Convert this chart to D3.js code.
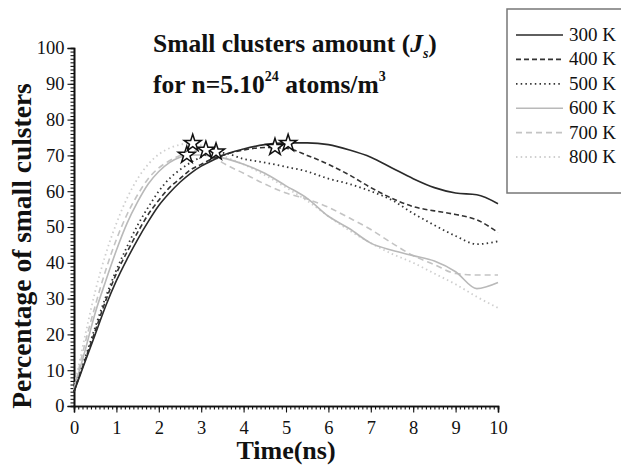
<!DOCTYPE html>
<html>
<head>
<meta charset="utf-8">
<script src="https://cdn.jsdelivr.net/npm/d3@7"></script>
<style>
  body { margin: 0; background: #fff; }
  svg { display: block; }
  text { font-family: "Liberation Serif", "Times New Roman", serif; fill: #111; }
</style>
</head>
<body>
<div id="chart"></div>
<script>
// time grid (ns) shared by all series
const times = [0, 0.25, 0.5, 0.75, 1, 1.25, 1.5, 1.75, 2, 2.25, 2.5, 2.75, 3, 3.25, 3.5,
    4, 4.5, 5, 5.5, 6, 6.5, 7, 7.5, 8, 8.5, 9, 9.5, 10];

const labels = ["300 K", "400 K", "500 K", "600 K", "700 K", "800 K"];

const v300 = [4, 12, 20, 28, 35, 41, 46.5, 51.5, 56, 59.5, 62.5, 65, 67, 68.5, 70,
    71.8, 73, 73.5, 73.5, 73, 71.5, 69.5, 66.5, 63.5, 61, 59.5, 59, 56.5];
const v400 = [4, 12.5, 21, 29.5, 37, 43, 48.5, 53.5, 57.5, 61, 63.5, 66, 67.5, 69, 70,
    71.5, 72.2, 72, 70, 67.5, 64.5, 61, 58, 55.7, 54.5, 53.5, 52, 48.5];
const v500 = [4, 13, 22, 30.5, 38, 44.5, 50.5, 55.5, 60, 63.5, 66, 68, 69.5, 70.7, 70.7,
    69, 68, 66.8, 65.5, 63.5, 62, 60, 57.5, 53.8, 50.5, 47.5, 45.2, 46];
const v600 = [4.5, 15, 26, 35, 43.5, 51, 57, 62, 65.5, 68, 69.5, 70.1, 70.1, 69.8, 69.3,
    67.5, 65, 61.5, 58, 53, 49.5, 45.5, 43.5, 42, 40.5, 37.5, 32.8, 34.5];
const v700 = [4.5, 17, 28, 38, 46.5, 53.5, 59, 63.5, 66.5, 68.5, 70, 71, 71.5, 70, 68,
    65, 62, 59.5, 57.8, 55.5, 52.5, 49.3, 45.5, 42, 39.5, 37, 36.6, 36.6];
const v800 = [5, 19, 32, 42.5, 51, 58, 63.5, 67.5, 70.3, 72, 73, 73.4, 72.8, 71.5, 70,
    67.5, 64.5, 61, 57.3, 53, 49, 45.5, 42.5, 40, 37, 34, 30.5, 27.4];

// star markers at the maxima
const peakTimes = [5.05, 4.74, 3.35, 2.66, 3.11, 2.8];
const peakValues = [73.4, 72.3, 71, 70.1, 71.5, 73.4];

const seriesValues = [v300, v400, v500, v600, v700, v800];
const styles = [
    { color: "#2a2a2a", dash: null, w: 1.6 },
    { color: "#333", dash: "5,3", w: 1.6 },
    { color: "#333", dash: "1.5,3.2", w: 1.8 },
    { color: "#b9b9b9", dash: null, w: 1.6 },
    { color: "#c4c4c4", dash: "6,4", w: 1.6 },
    { color: "#cfcfcf", dash: "1.5,3.2", w: 1.8 }
];

const width = 621, height = 466;
const margin = { left: 74, right: 123, top: 48, bottom: 60 };

const svg = d3.select("#chart").append("svg")
    .attr("width", width)
    .attr("height", height);

const x = d3.scaleLinear().domain([0, 10]).range([margin.left, width - margin.right]);
const y = d3.scaleLinear().domain([0, 100]).range([height - margin.bottom, margin.top]);

// axes
const xMinor = svg.append("g")
    .attr("transform", `translate(0,${y(0)})`)
    .call(d3.axisBottom(x).tickValues(d3.range(0, 10.001, 0.1)).tickSize(3.5).tickFormat(""));
const xMajor = svg.append("g")
    .attr("transform", `translate(0,${y(0)})`)
    .call(d3.axisBottom(x).tickValues(d3.range(0, 11, 1)).tickSize(6.5).tickPadding(8));
const yMinor = svg.append("g")
    .attr("transform", `translate(${x(0)},0)`)
    .call(d3.axisLeft(y).tickValues(d3.range(0, 100.001, 1)).tickSize(3.5).tickFormat(""));
const yMajor = svg.append("g")
    .attr("transform", `translate(${x(0)},0)`)
    .call(d3.axisLeft(y).tickValues(d3.range(0, 101, 10)).tickSize(6.5).tickPadding(3));

[xMinor, xMajor, yMinor, yMajor].forEach(g => {
    g.selectAll("path").attr("stroke", "#111").attr("stroke-width", 1.6);
    g.selectAll("line").attr("stroke", "#111").attr("stroke-width", 1.1);
});
xMajor.selectAll("text").style("font-size", "18.5px").attr("fill", "#111");
yMajor.selectAll("text").style("font-size", "18.5px").attr("fill", "#111");

// axis titles
svg.append("text")
    .attr("x", 286).attr("y", 459)
    .attr("text-anchor", "middle")
    .style("font-size", "26px").style("font-weight", "bold")
    .text("Time(ns)");

svg.append("text")
    .attr("transform", "translate(31,246) rotate(-90)")
    .attr("text-anchor", "middle")
    .style("font-size", "27.5px").style("font-weight", "bold")
    .text("Percentage of small culsters");

// title
const t1 = svg.append("text")
    .attr("x", 153).attr("y", 52)
    .style("font-size", "25.5px").style("font-weight", "bold");
t1.append("tspan").text("Small clusters amount (");
t1.append("tspan").style("font-style", "italic").text("J");
t1.append("tspan").attr("dy", 6).style("font-size", "14px").style("font-style", "italic").text("s");
t1.append("tspan").attr("dy", -6).text(")");

const t2 = svg.append("text")
    .attr("x", 153).attr("y", 93)
    .style("font-size", "25.5px").style("font-weight", "bold");
t2.append("tspan").text("for n=5.10");
t2.append("tspan").attr("dy", -12).style("font-size", "14px").text("24");
t2.append("tspan").attr("dy", 12).text(" atoms/m");
t2.append("tspan").attr("dy", -12).style("font-size", "14px").text("3");

// curves
const line = d3.line()
    .x(d => x(d[0]))
    .y(d => y(d[1]))
    .curve(d3.curveMonotoneX);

const order = [5, 4, 3, 2, 1, 0];
order.forEach(i => {
    const pts = times.map((t, k) => [t, seriesValues[i][k]]);
    svg.append("path")
        .datum(pts)
        .attr("fill", "none")
        .attr("stroke", styles[i].color)
        .attr("stroke-width", styles[i].w)
        .attr("stroke-dasharray", styles[i].dash)
        .attr("d", line);
});

// star markers
svg.selectAll(".star")
    .data(peakTimes.map((t, i) => [t, peakValues[i]]))
    .join("path")
    .attr("class", "star")
    .attr("transform", d => `translate(${x(d[0])},${y(d[1])})`)
    .attr("d", d3.symbol(d3.symbolStar, 90))
    .attr("fill", "#fff")
    .attr("stroke", "#111")
    .attr("stroke-width", 1.5);

// legend
const legend = svg.append("g");
legend.append("rect")
    .attr("x", 507).attr("y", 9)
    .attr("width", 130).attr("height", 184)
    .attr("fill", "#fff")
    .attr("stroke", "#777")
    .attr("stroke-width", 1.5);

labels.forEach((lab, i) => {
    const ly = 35 + i * 24.4;
    legend.append("line")
        .attr("x1", 516).attr("x2", 563)
        .attr("y1", ly).attr("y2", ly)
        .attr("stroke", styles[i].color)
        .attr("stroke-width", styles[i].w)
        .attr("stroke-dasharray", styles[i].dash);
    legend.append("text")
        .attr("x", 569).attr("y", ly + 6)
        .style("font-size", "19px")
        .text(lab);
});
</script>
</body>
</html>
